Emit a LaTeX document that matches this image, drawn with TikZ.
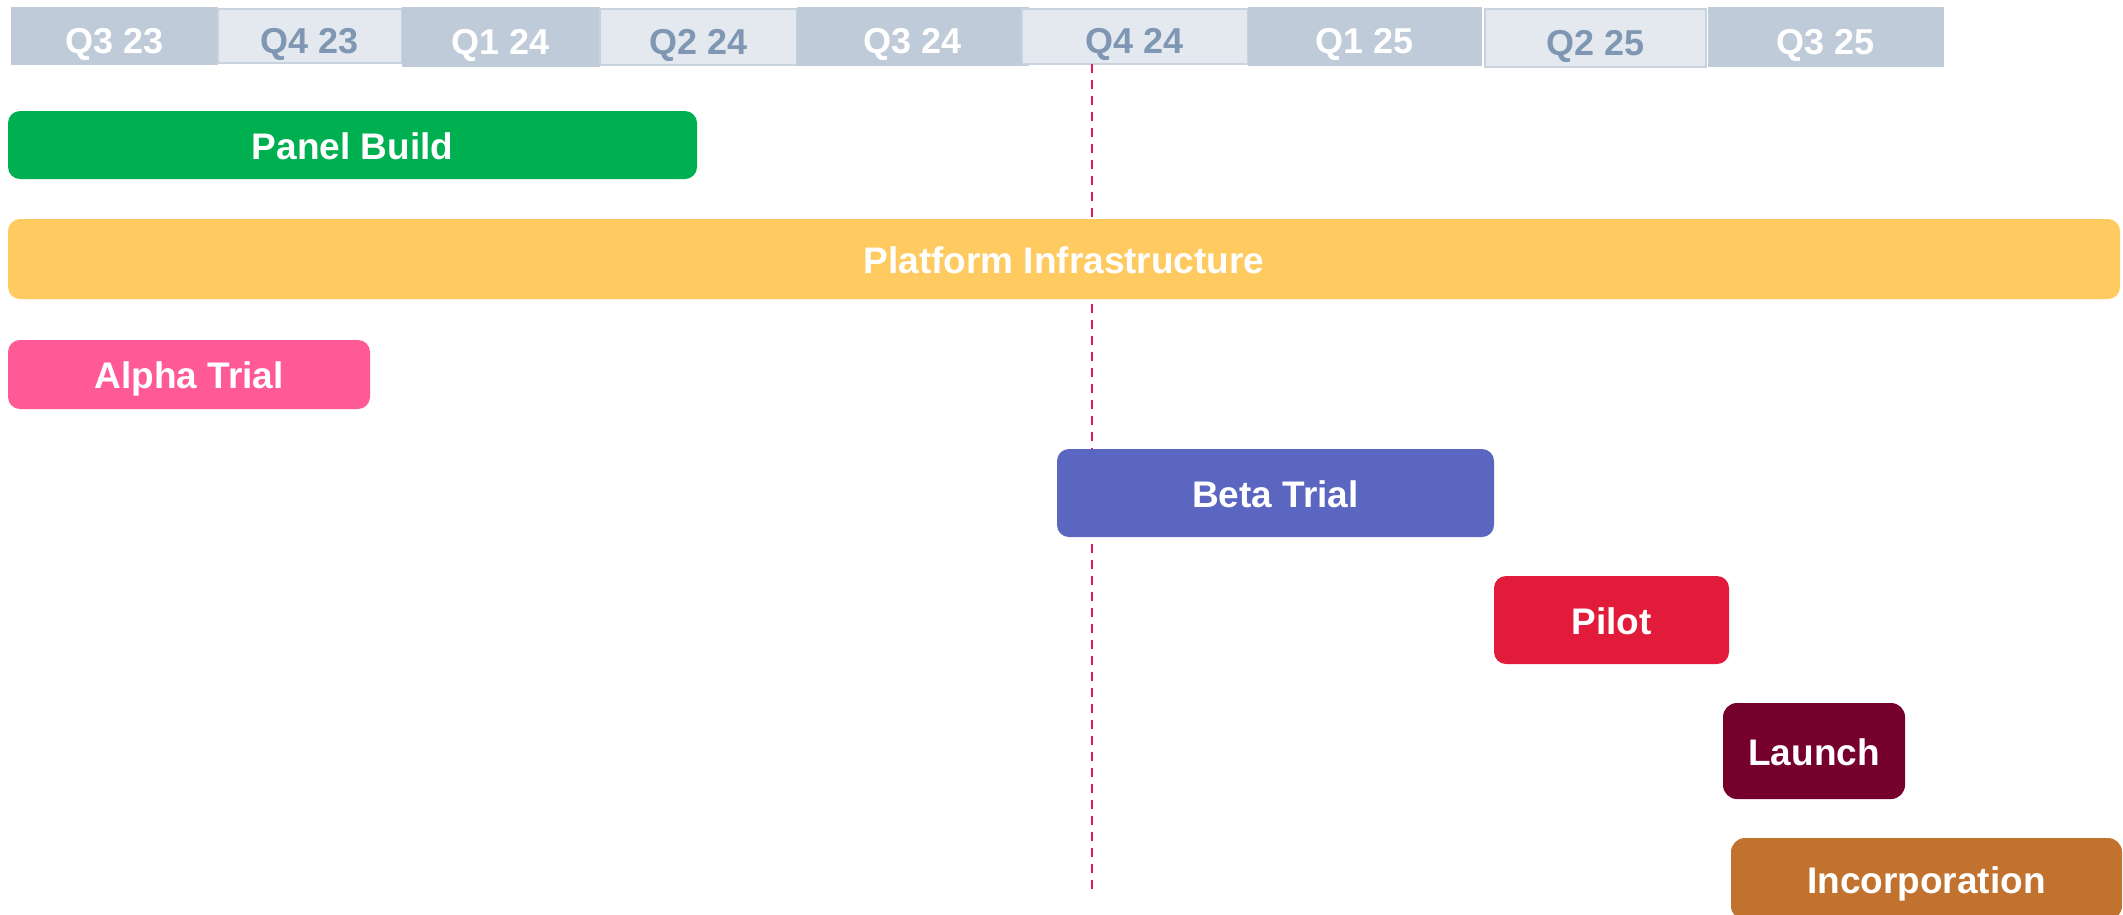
\documentclass[tikz,border=0pt]{standalone}
\usepackage{fontspec}
\setmainfont{Liberation Sans}
\usepackage{tikz}
\definecolor{hdrdark}{HTML}{BFCBD8}
\definecolor{hdrlight}{HTML}{E3E9EF}
\definecolor{hdrline}{HTML}{C9D3DE}
\definecolor{hdrtext}{HTML}{7F97B3}
\definecolor{panelgreen}{HTML}{00B050}
\definecolor{infrayellow}{HTML}{FFCA5F}
\definecolor{alphapink}{HTML}{FF5A96}
\definecolor{betablue}{HTML}{5A66BF}
\definecolor{pilotred}{HTML}{E31B3B}
\definecolor{launchwine}{HTML}{75002C}
\definecolor{incorpbrown}{HTML}{C0722E}
\definecolor{todayline}{HTML}{E8175D}
\tikzset{
  qdark/.style={fill=hdrdark, inner sep=0pt, outer sep=0pt, text=white,
    text height=34pt, text depth=0pt, font=\fontsize{36}{40}\selectfont\bfseries},
  qlight/.style={fill=hdrlight, draw=hdrline, line width=1.5pt, inner sep=0pt,
    outer sep=0pt, text=hdrtext, text height=34pt, text depth=0pt,
    font=\fontsize{36}{40}\selectfont\bfseries},
  task/.style={rounded corners=12pt, inner sep=0pt, outer sep=0pt, text=white,
    text height=28pt, text depth=0pt, font=\fontsize{37}{40}\selectfont\bfseries}
}
% cell: name, x-centre, y-centre, width, height
\def\qcell[#1](#2)(#3,#4:#5x#6)#7{\node[#1, minimum width=#5pt, minimum height=#6pt] (#2) at (#3,#4) {#7};}

\begin{document}
\begin{tikzpicture}[x=1pt,y=-1pt]
				%%%%% FRAME %%%%%
				\useasboundingbox (0,0) rectangle (2123,914);
				\clip (0,0) rectangle (2123,914);
				
				%%%%% QUARTERS %%%%%
				\qcell[qdark](q3y23)(114.5,36:207x58){Q3 23};
				\qcell[qlight](q4y23)(310,36:184x54){Q4 23};
				\qcell[qdark](q1y24)(501,37:198x60){Q1 24};
				\qcell[qlight](q2y24)(698.5,37:197x56){Q2 24};
				\qcell[qdark](q3y24)(913,36.5:232x59){Q3 24};
				\qcell[qlight](q4y24)(1135,36.5:226x55){Q4 24};
				\qcell[qdark](q1y25)(1365,36.5:234x59){Q1 25};
				\qcell[qlight](q2y25)(1595.5,38:221x58){Q2 25};
				\qcell[qdark](q3y25)(1826,37:236x60){Q3 25};
				
				%%%%% TODAY %%%%%
				\coordinate (today top) at (1092,64);
				\coordinate (today bot) at (1092,889);
				\draw[todayline, line width=2.6pt, dash pattern=on 9pt off 7pt] (today top) -- (today bot);
				
				%%%%% TASKS %%%%%
				\node[task, fill=panelgreen, minimum width=689pt, minimum height=68pt] (panel) at (352.5,145) {Panel Build};
				\node[task, fill=infrayellow, minimum width=2112pt, minimum height=80pt] (infra) at (1064,259) {Platform Infrastructure};
				\node[task, fill=alphapink, minimum width=362pt, minimum height=69pt] (alpha) at (189,374.5) {Alpha Trial};
				\node[task, fill=betablue, minimum width=437pt, minimum height=88pt] (beta) at (1275.5,493) {Beta Trial};
				\node[task, fill=pilotred, minimum width=235pt, minimum height=88pt] (pilot) at (1611.5,620) {Pilot};
				\node[task, fill=launchwine, rounded corners=14pt, minimum width=182pt, minimum height=96pt] (launch) at (1814,751) {Launch};
				\node[task, fill=incorpbrown, rounded corners=14pt, minimum width=391pt, minimum height=82pt] (incorp) at (1926.5,879) {Incorporation};
\end{tikzpicture}
\end{document}
